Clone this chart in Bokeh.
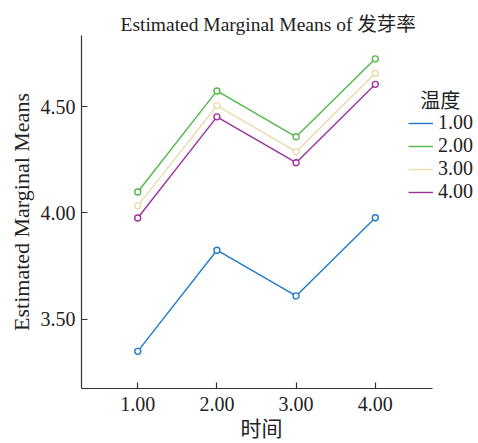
from bokeh.plotting import figure
from bokeh.models import Range1d, FixedTicker, Legend, LegendItem, Label, Title
from bokeh.embed import file_html
from bokeh.resources import INLINE

# data
times = [1.0, 2.0, 3.0, 4.0]
x_ticks = [1.0, 2.0, 3.0, 4.0]
x_tick_labels = ["1.00", "2.00", "3.00", "4.00"]
y_ticks = [3.5, 4.0, 4.5]
y_tick_labels = ["3.50", "4.00", "4.50"]
series_names = ["1.00", "2.00", "3.00", "4.00"]
temp_1 = [3.348, 3.824, 3.609, 3.977]
temp_2 = [4.098, 4.574, 4.358, 4.725]
temp_3 = [4.033, 4.505, 4.288, 4.657]
temp_4 = [3.976, 4.452, 4.236, 4.605]
colors = ["#1f7bc9", "#52b84a", "#e9dbac", "#9e309e"]

FONT = "'Liberation Serif', 'Noto Sans CJK SC', serif"

p = figure(width=478, height=443, output_backend="svg", toolbar_location=None,
           x_range=Range1d(0.29, 5.303), y_range=Range1d(3.173, 4.835),
           min_border_left=81, min_border_right=0, min_border_top=35, min_border_bottom=55)
p.title.text = "Estimated Marginal Means of 发芽率"
p.title.text_font = FONT
p.title.text_font_size = "19.5px"
p.title.text_font_style = "normal"
p.title.align = "left"
p.title.offset = 39
p.title.text_color = "#222222"
p.title.standoff = 2

p.grid.visible = False
p.outline_line_color = None

for ax in (p.xaxis[0], p.yaxis[0]):
    ax.axis_line_color = "#333333"
    ax.axis_line_width = 1.2
    ax.major_tick_line_color = "#333333"
    ax.major_tick_line_width = 1.2
    ax.major_tick_in = 6
    ax.major_tick_out = 0
    ax.minor_tick_line_color = None
    ax.major_label_text_font = FONT
    ax.major_label_text_font_size = "20px"
    ax.major_label_text_color = "#222222"
    ax.axis_label_text_font = FONT
    ax.axis_label_text_font_style = "normal"
    ax.axis_label_text_color = "#222222"
    ax.major_label_standoff = 6
    ax.axis_label_standoff = 4

p.xaxis.major_label_standoff = 8
p.yaxis.axis_label_text_font_size = "22px"
p.xaxis.bounds = (0.29, 4.72)

p.xaxis.ticker = FixedTicker(ticks=x_ticks)
p.xaxis.major_label_overrides = dict(zip(x_ticks, x_tick_labels))
p.yaxis.ticker = FixedTicker(ticks=y_ticks)
p.yaxis.major_label_overrides = dict(zip(y_ticks, y_tick_labels))
p.yaxis.axis_label = "Estimated Marginal Means"

# x-axis title (placed as a below-title so it can be positioned horizontally)
p.add_layout(Title(text="时间", align="left", offset=159, text_font=FONT,
                   text_font_size="21px", text_font_style="normal",
                   text_color="#222222", standoff=2), "below")

items = []
for name, vals, c in zip(series_names, [temp_1, temp_2, temp_3, temp_4], colors):
    r = p.line(times, vals, line_color=c, line_width=1.4)
    p.scatter(times, vals, marker="circle", size=6, line_color=c, line_width=1.4,
              fill_color="white")
    items.append(LegendItem(label=name, renderers=[r]))

legend = Legend(items=items, location=(327, 185), padding=0, margin=0,
                border_line_color=None, background_fill_alpha=0,
                label_text_font=FONT, label_text_font_size="20px",
                label_text_color="#222222", glyph_width=25, glyph_height=20,
                label_height=20, spacing=0, label_standoff=5)
p.add_layout(legend, "center")

p.add_layout(Label(x=4.568, y=4.528, text="温度", text_font=FONT,
                   text_font_size="20px", text_baseline="middle",
                   text_color="#222222"))

open("out.html", "w").write(file_html(p, INLINE))
